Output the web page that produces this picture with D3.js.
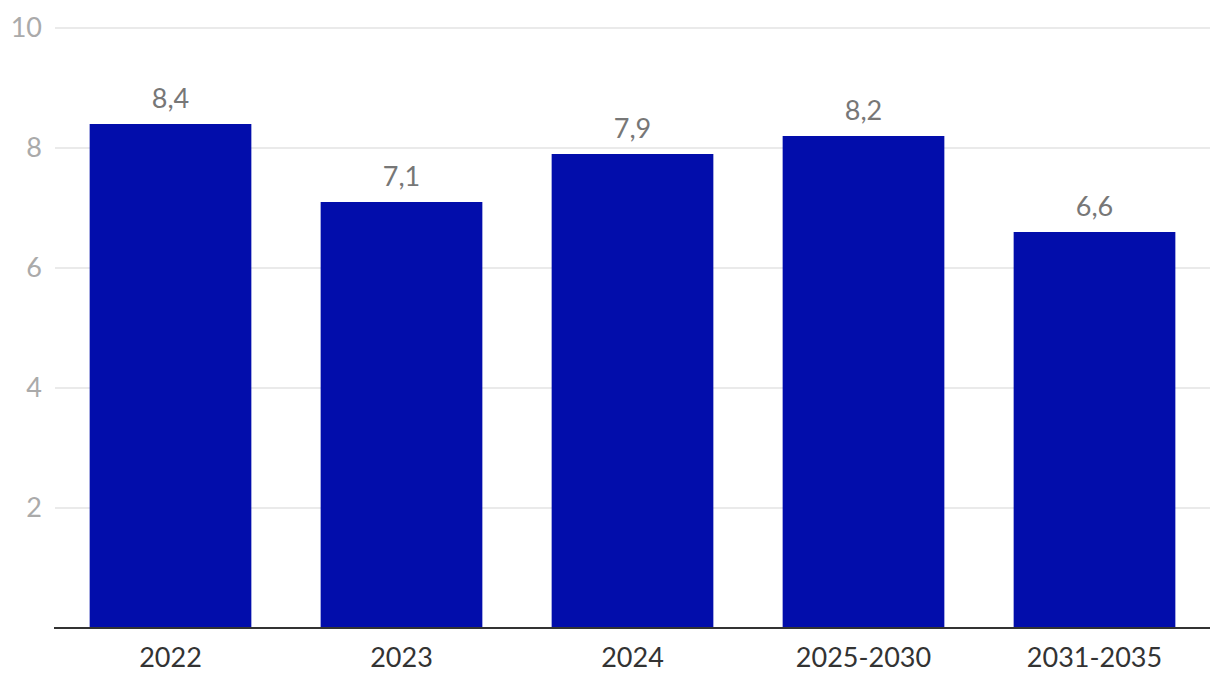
<!DOCTYPE html>
<html><head><meta charset="utf-8">
<script src="https://cdn.jsdelivr.net/npm/d3@7"></script>
<style>body{margin:0;background:#fff;}svg{display:block;font-family:Lato,"Open Sans",sans-serif;}</style>
</head><body>
<svg id="c" width="1220" height="688"></svg>
<script>
const categories = ["2022","2023","2024","2025-2030","2031-2035"];
const values = [8.4, 7.1, 7.9, 8.2, 6.6];
const yTicks = [2, 4, 6, 8, 10];

(function () {
const svg = d3.select("#c");
const mLeft = 55, mRight = 1210, mTop = 28, mBottom = 628;
const x = d3.scaleBand().domain(categories).range([mLeft, mRight]).paddingInner(0.3).paddingOuter(0.15);
const y = d3.scaleLinear().domain([0, 10]).range([mBottom, mTop]);
const fmt = v => d3.format(".1f")(v).replace(".", ",");

const grid = svg.append("g");
grid.selectAll("line").data(yTicks).join("line")
  .attr("x1", mLeft).attr("x2", mRight)
  .attr("y1", d => y(d)).attr("y2", d => y(d))
  .attr("stroke", "#e3e3e3").attr("stroke-width", 1.5);
grid.selectAll("text").data(yTicks).join("text")
  .attr("x", 42).attr("y", d => y(d)).attr("dy", "0.35em")
  .attr("text-anchor", "end").attr("fill", "#aaaaaa").attr("font-size", 27)
  .text(d => d);

svg.append("g").selectAll("rect").data(values).join("rect")
  .attr("x", (d, i) => x(categories[i])).attr("width", x.bandwidth())
  .attr("y", d => y(d)).attr("height", d => y(0) - y(d))
  .attr("fill", "#020dab");

svg.append("g").selectAll("text").data(values).join("text")
  .attr("x", (d, i) => x(categories[i]) + x.bandwidth() / 2)
  .attr("y", d => y(d) - 16)
  .attr("text-anchor", "middle").attr("fill", "#777777").attr("font-size", 27)
  .text(d => fmt(d));

svg.append("line").attr("x1", mLeft - 1).attr("x2", mRight).attr("y1", mBottom).attr("y2", mBottom)
  .attr("stroke", "#333333").attr("stroke-width", 2);

svg.append("g").selectAll("text").data(categories).join("text")
  .attr("x", d => x(d) + x.bandwidth() / 2).attr("y", 667)
  .attr("text-anchor", "middle").attr("fill", "#333333").attr("font-size", 27)
  .text(d => d);
})();
</script>
</body></html>
